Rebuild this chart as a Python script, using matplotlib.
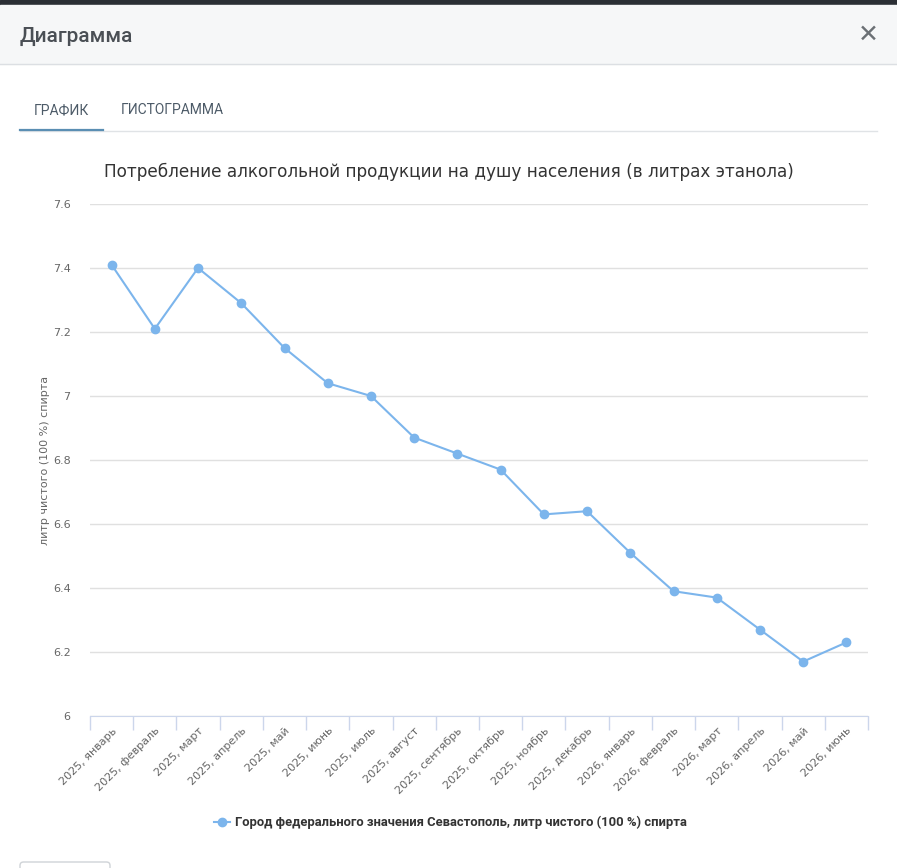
import numpy as np
import matplotlib

matplotlib.use("Agg")
import matplotlib.pyplot as plt
from matplotlib.patches import Rectangle, FancyBboxPatch
from matplotlib.lines import Line2D

months = [
    "2025, январь", "2025, февраль", "2025, март", "2025, апрель", "2025, май",
    "2025, июнь", "2025, июль", "2025, август", "2025, сентябрь", "2025, октябрь",
    "2025, ноябрь", "2025, декабрь", "2026, январь", "2026, февраль", "2026, март",
    "2026, апрель", "2026, май", "2026, июнь",
]
values = [
    7.41, 7.21, 7.40, 7.29, 7.15, 7.04, 7.00, 6.87, 6.82, 6.77,
    6.63, 6.64, 6.51, 6.39, 6.37, 6.27, 6.17, 6.23,
]
y_ticks = [6, 6.2, 6.4, 6.6, 6.8, 7, 7.2, 7.4, 7.6]
y_tick_labels = ["6", "6.2", "6.4", "6.6", "6.8", "7", "7.2", "7.4", "7.6"]

title = "Потребление алкогольной продукции на душу населения (в литрах этанола)"
y_label = "литр чистого (100 %) спирта"
series_name = "Город федерального значения Севастополь, литр чистого (100 %) спирта"

W, H = 897, 868
LINE = "#7cb5ec"


def px(x, y):
    return x / W, 1 - y / H


fig = plt.figure(figsize=(W / 100, H / 100), dpi=100)
fig.patch.set_facecolor("white")

# modal chrome
fig.patches.append(Rectangle(px(0, 5), 1, 5 / H, transform=fig.transFigure, color="#2b2f35", zorder=0))
fig.patches.append(Rectangle(px(0, 64), 1, 59 / H, transform=fig.transFigure, color="#f6f7f8", zorder=0))
fig.add_artist(Line2D([0, 1], [px(0, 64)[1]] * 2, color="#dcdfe3", lw=1))
fig.text(*px(20, 36), "Диаграмма", fontsize=15, family="Roboto", fontweight="medium",
         color="#4a4f55", va="center")
fig.text(*px(868, 35), "✕", fontsize=18, family="DejaVu Sans", fontweight="bold",
         color="#6b7075", va="center", ha="center")

fig.text(*px(34, 110), "ГРАФИК", fontsize=10, family="Roboto", color="#4d5b68", va="center")
fig.text(*px(121, 110), "ГИСТОГРАММА", fontsize=10, family="Roboto", color="#4d5b68", va="center")
fig.add_artist(Line2D([px(20, 0)[0], px(877, 0)[0]], [px(0, 131)[1]] * 2, color="#e0e3e6", lw=1))
fig.add_artist(Line2D([px(20, 0)[0], px(103, 0)[0]], [px(0, 130)[1]] * 2, color="#5a8eb3", lw=1.6))

fig.patches.append(FancyBboxPatch(px(20, 880), 90 / W, 18 / H, boxstyle="round,pad=0,rounding_size=0.004",
                                  transform=fig.transFigure, fc="white", ec="#cfd3d7", lw=1))

# chart
l, b = px(90, 716)
r, t = px(868, 204)
ax = fig.add_axes([l, b, r - l, t - b])
x = np.arange(len(values))
ax.plot(x, values, color=LINE, lw=1.5, marker="o", ms=6, mec=LINE, mfc=LINE, zorder=3, clip_on=False)

ax.set_xlim(-0.5, len(values) - 0.5)
ax.set_ylim(6, 7.6)
ax.set_yticks(y_ticks)
ax.set_yticklabels(y_tick_labels)
ax.grid(axis="y", color="#e0e0e0", lw=1)
ax.set_axisbelow(True)

ax.set_xticks(np.arange(len(values) + 1) - 0.5)
ax.set_xticklabels([])
ax.set_xticks(x, minor=True)
ax.set_xticklabels(months, minor=True, rotation=45, ha="right", va="top",
                   rotation_mode="anchor", fontsize=8, color="#666666")
ax.tick_params(axis="x", which="major", length=10, color="#ccd6eb", width=1)
ax.tick_params(axis="x", which="minor", length=0, pad=7)
ax.tick_params(axis="y", length=0, pad=14, labelsize=8, labelcolor="#666666")

for side in ("top", "right", "left"):
    ax.spines[side].set_visible(False)
ax.spines["bottom"].set_color("#ccd6eb")

fig.text(*px(449, 172), title, fontsize=12.2, color="#333333", ha="center", va="center")
fig.text(*px(45, 460), y_label, fontsize=8, color="#666666", rotation=90, ha="center", va="center")

# legend
lx, ly = px(222, 822)
fig.add_artist(Line2D([px(214, 0)[0], px(230, 0)[0]], [ly, ly], color=LINE, lw=1.5))
fig.add_artist(Line2D([lx], [ly], color=LINE, marker="o", ms=6))
fig.text(*px(235, 822), series_name, fontsize=9.4, family="Roboto", fontweight="bold",
         color="#333333", va="center")

fig.savefig("out.png", dpi=100)
